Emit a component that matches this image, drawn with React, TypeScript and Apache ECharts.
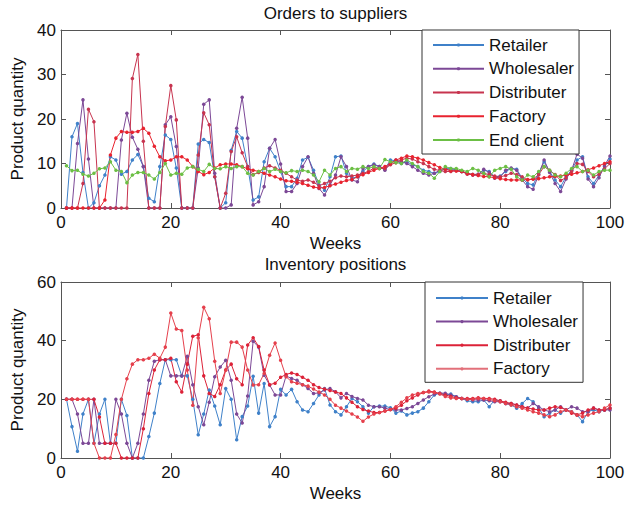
import React, { useEffect, useRef } from 'react';
import * as echarts from 'echarts';

const FONT = '"Liberation Sans", Arial, sans-serif';

const weeks = Array.from({ length: 100 }, (_, i) => i + 1);

const topNames = ['Retailer', 'Wholesaler', 'Distributer', 'Factory', 'End client'];
const bottomNames = ['Retailer', 'Wholesaler', 'Distributer', 'Factory'];

// Orders to suppliers
const retailerOrders = [
  0, 16, 19, 8, 0, 1.2, 5, 7.4, 11.5, 10.8,
  7.6, 8.2, 10.8, 12, 9.3, 2.2, 1.4, 9.3, 16.4, 15.4,
  9, 0, 0, 0, 14.4, 15.4, 14.7, 7, 0, 1.2,
  13, 17.2, 15.7, 9.3, 1.8, 2.5, 10.4, 13.4, 11.5, 8.2,
  4.8, 4.8, 6.7, 10.8, 11.4, 8.5, 5.2, 4.0, 7.0, 11.5,
  11.7, 7.8, 6.7, 7.0, 8.2, 9.3, 9.9, 9.3, 8.7, 10.8,
  10.6, 10.0, 10.4, 9.7, 9.3, 8.5, 8.2, 7.8, 8.2, 8.9,
  8.9, 8.5, 8.2, 7.8, 7.5, 7.6, 8.5, 8.2, 7.0, 7.2,
  8.2, 8.9, 8.7, 6.7, 5.5, 5.2, 7.8, 10.4, 8.2, 6.3,
  4.8, 7.0, 8.5, 10.8, 11.5, 7.0, 5.5, 7.4, 9.3, 11.0,
];
const wholesalerOrders = [
  0, 0, 14.5, 24.3, 11, 0, 0, 0, 0, 0,
  15.3, 21.3, 15.9, 13.2, 9.3, 0, 0, 0, 18.7, 20.5,
  13.8, 0, 0, 0, 9, 23.3, 24.3, 7.8, 0, 0,
  0.7, 17.9, 24.9, 15.7, 0.7, 1.4, 4.8, 13.4, 15.4, 9.9,
  3.7, 3.7, 5.5, 9.3, 11.5, 7.8, 4.4, 2.9, 5.2, 7.4,
  11.5, 9.3, 6.3, 5.9, 8.9, 9.3, 9.7, 9.3, 8.5, 10.0,
  10.8, 10.4, 10.0, 9.3, 8.5, 7.8, 7.4, 7.8, 8.5, 8.7,
  8.5, 8.5, 8.2, 7.8, 7.4, 7.4, 8.7, 8.0, 6.7, 7.0,
  8.5, 9.0, 8.5, 6.3, 4.8, 4.2, 7.5, 10.8, 8.0, 5.5,
  3.7, 6.5, 8.5, 12.1, 11.2, 6.5, 4.8, 6.8, 9.5, 11.7,
];
const distributerOrders = [
  0, 0, 0, 5.5, 22.2, 19.4, 0, 0, 0, 0,
  0, 0, 29.1, 34.5, 15, 0, 0, 0, 18.3, 27.5,
  19.8, 0, 0, 0, 11.9, 21.4, 18.7, 7, 0, 3.3,
  12.7, 16, 12.4, 9.3, 7.5, 8.0, 9.0, 9.5, 9.0, 8.5,
  7.8, 7.0, 6.3, 6.0, 6.3, 5.8, 5.0, 5.5, 6.0, 6.8,
  7.2, 7.0, 7.2, 7.4, 7.8, 8.2, 9.0, 8.9, 8.9, 9.7,
  10.2, 10.8, 11.2, 11.0, 10.4, 10.0, 9.3, 8.7, 8.4, 8.2,
  8.2, 8.4, 8.2, 7.6, 7.5, 7.6, 7.8, 7.5, 7.2, 7.0,
  7.3, 7.8, 7.5, 7.0, 6.3, 6.5, 7.5, 9.3, 8.5, 7.5,
  6.2, 6.8, 8.2, 10.0, 9.8, 8.2, 7.0, 7.6, 8.8, 10.0,
];
const factoryOrders = [
  0, 0, 0, 0, 0, 0, 0, 1.8, 11.9, 15.7,
  17.2, 17, 17, 17.2, 17.9, 16.8, 13.9, 11.5, 10.6, 10.8,
  11.5, 11.5, 10.8, 9.3, 8.2, 7.5, 8.0, 9.0, 9.7, 9.9,
  9.9, 9.7, 9.3, 8.8, 8.5, 8.2, 7.8, 7.4, 7.0, 6.5,
  6.1, 6.0, 5.8, 5.5, 5.1, 4.7, 4.5, 4.6, 5.0, 5.4,
  5.8, 6.2, 6.4, 7.0, 7.5, 8.0, 8.5, 8.9, 9.3, 10.0,
  10.8, 11.2, 11.7, 11.5, 11.2, 10.8, 10.2, 9.7, 9.1, 8.7,
  8.4, 8.3, 8.2, 7.8, 7.5, 7.3, 7.1, 7.0, 6.8, 6.6,
  6.4, 6.3, 6.3, 6.3, 6.4, 6.5, 6.6, 6.8, 7.0, 7.1,
  7.2, 7.4, 7.6, 7.9, 8.2, 8.6, 9.0, 9.5, 10.0, 10.4,
];
const endClientOrders = [
  9.5, 8.4, 8.5, 7.6, 7.2, 7.8, 8.8, 9.0, 10.4, 8.5,
  8.2, 5.7, 7.4, 8.0, 8.0, 7.4, 6.5, 8.0, 10.0, 7.4,
  7.8, 7.6, 9.0, 9.3, 8.7, 8.2, 9.8, 8.9, 8.8, 9.3,
  8.9, 9.3, 9.3, 7.8, 7.4, 8.2, 8.9, 8.2, 8.7, 8.2,
  7.9, 8.4, 8.2, 8.5, 8.2, 7.4, 5.9, 8.5, 7.4, 8.9,
  9.3, 8.2, 8.9, 8.7, 9.3, 8.9, 9.3, 8.9, 10.9, 10.4,
  10.2, 10.0, 10.8, 10.0, 9.3, 8.2, 7.8, 6.7, 8.2, 9.3,
  8.9, 8.9, 8.5, 8.2, 8.9, 8.5, 7.8, 7.0, 8.5, 8.9,
  9.3, 8.7, 7.0, 6.3, 7.4, 7.0, 8.2, 9.3, 8.5, 7.4,
  7.0, 7.8, 8.9, 9.3, 8.2, 8.5, 7.4, 8.2, 8.5, 8.5,
];

// Inventory positions
const retailerInv = [
  20, 10.7, 2.3, 15, 20, 5, 15, 20, 5, 5,
  20, 14.5, 0, 0, 0, 7.3, 15.3, 25.4, 33.5, 33.5,
  33.5, 28, 28, 20, 7.9, 15, 23.2, 17.7, 11.3, 23.7,
  20, 6.2, 14.1, 17.7, 27.9, 15.3, 25.4, 10.7, 14.1, 23.4,
  21.5, 23.4, 19.2, 16.4, 15.8, 18.6, 21.5, 23.7, 18.1, 15.8,
  14.7, 17.5, 20.3, 19.2, 17.5, 15.3, 17.5, 17.7, 17.7, 17.1,
  15.3, 16.0, 14.7, 15.3, 15.8, 17.0, 19.2, 21.5, 22.1, 21.5,
  21.8, 20.9, 20.3, 19.5, 19.2, 19.2, 19.8, 17.5, 19.8, 19.5,
  18.6, 18.1, 17.0, 18.6, 20.3, 19.2, 17.0, 14.1, 15.3, 16.4,
  15.3, 16.4, 15.8, 14.7, 12.4, 15.8, 16.4, 15.8, 16.4, 17.0,
];
const wholesalerInv = [
  20, 20, 15, 5, 5, 20, 5, 5, 5, 20,
  15, 5, 0, 5, 15, 26.5, 33, 33.5, 33.5, 28,
  28, 28, 34.7, 25, 17.5, 11.3, 19, 27.7, 31, 33.3,
  26.5, 15, 11.9, 21.1, 39.8, 37.8, 28.2, 24.9, 21.5, 21.5,
  28, 27.1, 26.5, 25, 23.7, 22, 22.2, 23.2, 23.7, 22.6,
  20.5, 22, 21, 20.3, 19.8, 18, 17.5, 17.5, 17, 16.5,
  16.4, 16.4, 16.9, 17.5, 18.6, 19.8, 20.9, 21.8, 22.1, 22.1,
  21.5, 20.9, 20.3, 20, 19.8, 19.8, 19.8, 19.5, 19.2, 19.2,
  18.6, 18.6, 18.1, 17.5, 17, 18.6, 17.5, 16.4, 15.8, 16.4,
  17.5, 16.4, 17.5, 17, 15.8, 15.8, 17, 16.4, 16.4, 16.4,
];
const distributerInv = [
  20, 20, 20, 20, 20, 20, 14, 5, 5, 5,
  0, 0, 0, 0, 10, 22, 30, 33.5, 33.5, 34,
  26, 22.5, 32, 41.5, 42, 28, 22, 21, 25, 30,
  32, 27, 25, 38.5, 41, 38, 30, 25, 25.5, 27.5,
  28.5, 29, 28.5, 27.5, 26.5, 25, 24, 23.5, 23, 22.5,
  22, 20.5, 19, 17.5, 16.5, 16, 15.5, 15.5, 16, 16.5,
  17, 18, 19.5, 20.5, 21.5, 22.3, 22.8, 22.5, 22, 21.5,
  21, 20.5, 20.3, 20.3, 20.3, 20.5, 20.3, 20.3, 20, 19.5,
  19, 18.6, 18.1, 17.5, 17, 16.7, 16.4, 16.4, 17, 17.5,
  17.2, 16.4, 15.3, 14.7, 15.3, 16.4, 17, 16.4, 16.4, 17,
];
const factoryInv = [
  20, 20, 20, 20, 20, 5, 0, 0, 0, 8,
  20, 27, 32, 33.5, 33.5, 34, 35.4, 34, 37.8, 49.4,
  44, 43.5, 30, 18, 41, 51.4, 47.5, 33, 22, 30,
  39.5, 39.5, 37.8, 30, 24.9, 25, 28.8, 35, 39.2, 33.3,
  27.7, 26, 25.5, 25, 24.5, 23.5, 22.5, 21.5, 20, 18,
  17, 16, 15, 14, 12.5, 14, 15, 15.5, 16, 16.5,
  17.5, 19, 20.5, 21.5, 22, 22.3, 22.5, 22.3, 21.8, 21,
  20.5, 20.3, 20.3, 20, 20, 20.3, 20.3, 20, 19.5, 19.2,
  18.6, 18.1, 17.5, 17, 16.4, 15.8, 15.3, 14.7, 14.1, 14.7,
  15.8, 16.4, 15.8, 14.7, 14.1, 14.7, 15.3, 15.8, 17, 18.1,
];

const C_RET = '#3f81c9';
const C_WHO = '#7c4896';
const C_DIS_TOP = '#c7344f';
const C_FAC_TOP = '#e8232f';
const C_END = '#6cbf45';
const C_DIS_BOT = '#dc2238';
const C_FAC_BOT = '#e5404c';
const C_FAC_BOT_LEGEND = '#e2707a';

const AXIS_COLOR = '#555';

function mkSeries(name: string, values: number[], color: string, xi: number, yi: number) {
  return {
    type: 'line',
    name,
    data: values.map((v, i) => [weeks[i], v]),
    xAxisIndex: xi,
    yAxisIndex: yi,
    symbol: 'circle',
    symbolSize: 3.5,
    showSymbol: true,
    lineStyle: { width: 1, color },
    itemStyle: { color },
    emphasis: { disabled: true },
  };
}

function xAx(gridIndex: number, position: string, labels: boolean) {
  return {
    type: 'value',
    gridIndex,
    position,
    min: 0,
    max: 100,
    interval: 20,
    name: labels ? 'Weeks' : '',
    nameLocation: 'middle',
    nameGap: 26.5,
    nameTextStyle: { fontSize: 17, color: '#111', fontFamily: FONT },
    axisLine: { show: true, onZero: false, lineStyle: { color: AXIS_COLOR, width: 1 } },
    axisTick: { show: true, inside: true, length: 5, lineStyle: { color: AXIS_COLOR } },
    axisLabel: { show: labels, fontSize: 17, color: '#111', fontFamily: FONT, margin: 6 },
    splitLine: { show: false },
  };
}

function yAx(gridIndex: number, position: string, labels: boolean, max: number, interval: number) {
  return {
    type: 'value',
    gridIndex,
    position,
    min: 0,
    max,
    interval,
    name: labels ? 'Product quantity' : '',
    nameLocation: 'middle',
    nameGap: 34.5,
    nameTextStyle: { fontSize: 17, color: '#111', fontFamily: FONT },
    axisLine: { show: true, onZero: false, lineStyle: { color: AXIS_COLOR, width: 1 } },
    axisTick: { show: true, inside: true, length: 5, lineStyle: { color: AXIS_COLOR } },
    axisLabel: { show: labels, fontSize: 17, color: '#111', fontFamily: FONT, margin: 5 },
    splitLine: { show: false },
  };
}

const legendText = { fontSize: 17, lineHeight: 17, color: '#111', fontFamily: FONT };

export default function App() {
  const ref = useRef<HTMLDivElement>(null);
  useEffect(() => {
    if (!ref.current) return;
    const chart = echarts.init(ref.current, undefined, { renderer: 'svg' });
    const topValues = [retailerOrders, wholesalerOrders, distributerOrders, factoryOrders, endClientOrders];
    const topColors = [C_RET, C_WHO, C_DIS_TOP, C_FAC_TOP, C_END];
    const botValues = [retailerInv, wholesalerInv, distributerInv, factoryInv];
    const botColors = [C_RET, C_WHO, C_DIS_BOT, C_FAC_BOT];
    const botLegendColors = [C_RET, C_WHO, C_DIS_BOT, C_FAC_BOT_LEGEND];
    const series: any[] = [];
    topNames.forEach((n, i) => series.push(mkSeries(n, topValues[i], topColors[i], 0, 0)));
    bottomNames.forEach((n, i) => series.push(mkSeries(n, botValues[i], botColors[i], 2, 2)));

    chart.setOption({
      animation: false,
      backgroundColor: '#fff',
      textStyle: { fontFamily: FONT },
      grid: [
        { left: 61, top: 30, width: 549, height: 178 },
        { left: 61, top: 282, width: 549, height: 176 },
      ],
      xAxis: [xAx(0, 'bottom', true), xAx(0, 'top', false), xAx(1, 'bottom', true), xAx(1, 'top', false)],
      yAxis: [
        yAx(0, 'left', true, 40, 10),
        yAx(0, 'right', false, 40, 10),
        yAx(1, 'left', true, 60, 20),
        yAx(1, 'right', false, 60, 20),
      ],
      legend: [
        {
          data: topNames.map((n, i) => ({ name: n, itemStyle: { color: topColors[i] }, lineStyle: { color: topColors[i] } })),
          orient: 'vertical',
          left: 422,
          top: 30,
          padding: [6.5, 5, 5.5, 10],
          itemGap: 6.75,
          itemWidth: 51,
          itemHeight: 4,
          itemTextGap: 5,
          textStyle: legendText,
          backgroundColor: '#fff',
          borderColor: '#333',
          borderWidth: 1,
          selectedMode: false,
        },
        {
          data: bottomNames.map((n, i) => ({ name: n, itemStyle: { color: botLegendColors[i] }, lineStyle: { color: botLegendColors[i] } })),
          orient: 'vertical',
          left: 425,
          top: 282,
          padding: [7.5, 5, 5, 10],
          itemGap: 6.6,
          itemWidth: 52,
          itemHeight: 4,
          itemTextGap: 5,
          textStyle: legendText,
          backgroundColor: '#fff',
          borderColor: '#333',
          borderWidth: 1,
          selectedMode: false,
        },
      ],
      graphic: [
        {
          type: 'text',
          x: 335.5,
          y: 13.5,
          style: { text: 'Orders to suppliers', fontSize: 17, fontFamily: FONT, fill: '#111', align: 'center', verticalAlign: 'middle' },
        },
        {
          type: 'text',
          x: 335.5,
          y: 264,
          style: { text: 'Inventory positions', fontSize: 17, fontFamily: FONT, fill: '#111', align: 'center', verticalAlign: 'middle' },
        },
      ],
      series,
    });
    return () => chart.dispose();
  }, []);
  return <div ref={ref} style={{ position: 'fixed', left: 0, top: 0, width: 634, height: 507 }} />;
}
